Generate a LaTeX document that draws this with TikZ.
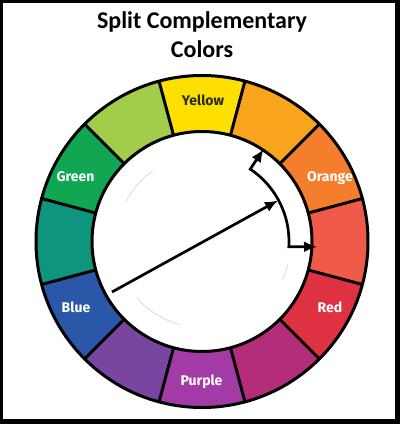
\documentclass[tikz,border=0pt]{standalone}
\usepackage{fontspec}
\setmainfont{Carlito}
\newfontfamily\labelfont{Fira Sans}
\usetikzlibrary{arrows.meta,calc}
\definecolor{cY}{HTML}{FDE002}
\definecolor{cYO}{HTML}{F8A51D}
\definecolor{cO}{HTML}{F47E2B}
\definecolor{cRO}{HTML}{F05A48}
\definecolor{cR}{HTML}{DE3242}
\definecolor{cRP}{HTML}{B32D79}
\definecolor{cP}{HTML}{A33BA6}
\definecolor{cBP}{HTML}{7845A1}
\definecolor{cB}{HTML}{2A57A8}
\definecolor{cBG}{HTML}{0E957E}
\definecolor{cG}{HTML}{10A652}
\definecolor{cYG}{HTML}{A2CD4B}
\definecolor{ytext}{HTML}{2A2A1A}
\begin{document}
\begin{tikzpicture}[x=1pt,y=1pt,
  title/.style={font=\fontsize{24}{28}\selectfont\bfseries, anchor=base, inner sep=0pt},
  wlabel/.style={font=\labelfont\fontsize{14}{16}\selectfont\bfseries, anchor=base, inner sep=0pt, text=white},
  edge/.style={line width=3pt, black},
  pointer/.style={line width=2.7pt, black, -{Latex[length=13pt,width=11pt]}},
  faint/.style={line width=0.6pt, black!18}]
\useasboundingbox (0,0) rectangle (400,424);
\fill[black] (0,0) rectangle (400,424);
\fill[white] (3,5) rectangle (395,421);
% title
\node[title] (t1) at (202,395) {Split Complementary};
\node[title] (t2) at (202,366) {Colors};
% wheel
\coordinate (c) at (202,182.5);
\def\Ro{166}\def\Ri{110}
\foreach \col [count=\i from 0] in {cY,cYO,cO,cRO,cR,cRP,cP,cBP,cB,cBG,cG,cYG}{
  \pgfmathsetmacro\a{105-30*\i}
  \pgfmathsetmacro\b{75-30*\i}
  \fill[\col] ($(c)+(\a:\Ro)$) arc[start angle=\a, end angle=\b, radius=\Ro]
     -- ($(c)+(\b:\Ri)$) arc[start angle=\b, end angle=\a, radius=\Ri] -- cycle;
}
\foreach \i in {0,...,11}{
  \pgfmathsetmacro\a{105-30*\i}
  \draw[edge] ($(c)+(\a:\Ri)$) -- ($(c)+(\a:\Ro)$);
}
\draw[edge] (c) circle[radius=\Ro];
\draw[edge] (c) circle[radius=\Ri];
% faint arcs
\draw[faint] ($(c)+(153:86)$) arc[start angle=153, end angle=125, radius=86];
\draw[faint] ($(c)+(221:86)$) arc[start angle=221, end angle=255, radius=86];
\draw[faint] ($(c)+(-15:89)$) arc[start angle=-15, end angle=-25, radius=89];
% labels
\node[wlabel, text=ytext] (ly) at (203,318.5) {Yellow};
\node[wlabel] (lo) at (330,242) {Orange};
\node[wlabel] (lr) at (330,111) {Red};
\node[wlabel] (lp) at (201.5,38) {Purple};
\node[wlabel] (lb) at (76,111) {Blue};
\node[wlabel] (lg) at (75.5,242) {Green};
% arrows
\coordinate (s) at (112,132);
\coordinate (e) at (278,223.5);
\draw[pointer] (s) -- (e);
\coordinate (tipA) at ($(c)+(56.3:111)$);
\coordinate (elbow) at ($(c)+(56.3:87)$);
\coordinate (tipB) at (317,177.2);
\draw[pointer, {Latex[length=13pt,width=11pt]}-{Latex[length=13pt,width=11pt]}, line join=miter]
  (tipA) -- (elbow) arc[start angle=56.3, end angle=-3.5, radius=87] -- (tipB);
\end{tikzpicture}
\end{document}
